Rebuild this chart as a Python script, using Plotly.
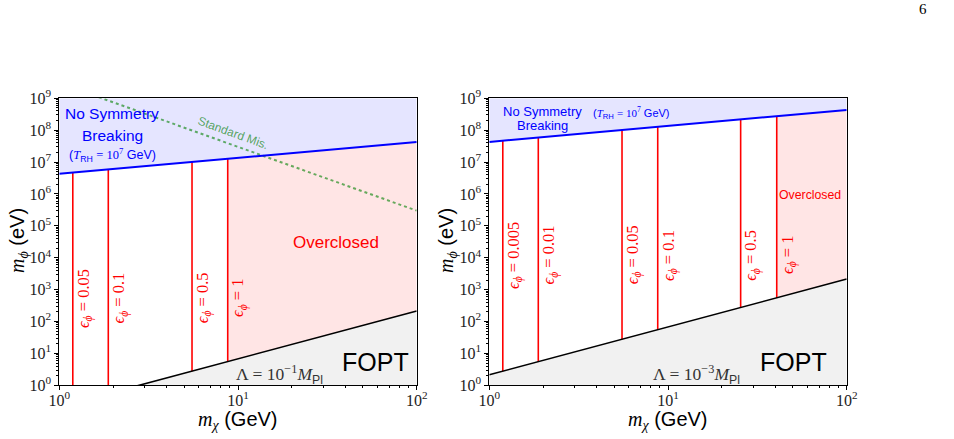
import numpy as np
import plotly.graph_objects as go

# ---------------- data ----------------
mchi_ends = [1.0, 100.0]                      # GeV, x-range endpoints of the boundary lines
blue_left = [4.3e6, 4.3e7]                    # no-symmetry-breaking boundary (left)
black_left = [0.214, 214.0]                   # Lambda = 1e-1 M_Pl boundary (left)
green_left = [3.0e9, 3.0e5]                   # standard misalignment (left)
blue_right = [4.3e7, 4.3e8]                   # (right)
black_right = [2.14, 2140.0]                  # Lambda = 1e-3 M_Pl (right)

eps_left_mchi = [1.19, 1.88, 5.53, 8.76]
eps_left_labels = ["0.05", "0.1", "0.5", "1"]
eps_right_mchi = [1.19, 1.88, 5.53, 8.76, 25.5, 40.6]
eps_right_labels = ["0.005", "0.01", "0.05", "0.1", "0.5", "1"]

y_decades = list(range(0, 10))
x_decades = [0, 1, 2]

SERIF = "Liberation Serif"
SANS = "Liberation Sans"


def loglin(x, xs, ys):
    return 10 ** np.interp(np.log10(x), np.log10(xs), np.log10(ys))


fig = go.Figure()

W, H = 954, 439
dom_x1 = [59.3 / W, 416.7 / W]
dom_x2 = [489.3 / W, 846.7 / W]
dom_y = [(H - 385.3) / H, (H - 98.3) / H]


def panel(xa, ya, blue, black, eps_x, green=None):
    x0, x1 = mchi_ends
    top = 10 ** y_decades[-1]
    bot = 10 ** (y_decades[0] - 1)
    fig.add_trace(go.Scatter(x=[x0, x1, x1, x0, x0], y=[blue[0], blue[1], top, top, blue[0]],
                             fill="toself", fillcolor="rgba(0,0,255,0.1)", line=dict(width=0),
                             mode="lines", xaxis=xa, yaxis=ya, hoverinfo="skip", showlegend=False))
    fig.add_trace(go.Scatter(x=[x0, x1, x1, x0, x0], y=[black[0], black[1], bot, bot, black[0]],
                             fill="toself", fillcolor="rgba(128,128,128,0.11)", line=dict(width=0),
                             mode="lines", xaxis=xa, yaxis=ya, hoverinfo="skip", showlegend=False))
    xs = eps_x[-1]
    fig.add_trace(go.Scatter(x=[xs, x1, x1, xs, xs],
                             y=[loglin(xs, mchi_ends, black), black[1], blue[1],
                                loglin(xs, mchi_ends, blue), loglin(xs, mchi_ends, black)],
                             fill="toself", fillcolor="rgba(255,0,0,0.1)", line=dict(width=0),
                             mode="lines", xaxis=xa, yaxis=ya, hoverinfo="skip", showlegend=False))
    if green is not None:
        fig.add_trace(go.Scatter(x=mchi_ends, y=green, mode="lines",
                                 line=dict(color="rgba(0,128,0,0.6)", width=2, dash="dot"),
                                 xaxis=xa, yaxis=ya, hoverinfo="skip", showlegend=False))
    for xv in eps_x:
        yb = max(loglin(xv, mchi_ends, black), 10 ** y_decades[0])
        yt = loglin(xv, mchi_ends, blue)
        fig.add_trace(go.Scatter(x=[xv, xv], y=[yb, yt], mode="lines",
                                 line=dict(color="red", width=1.6),
                                 xaxis=xa, yaxis=ya, hoverinfo="skip", showlegend=False))
    fig.add_trace(go.Scatter(x=mchi_ends, y=blue, mode="lines", line=dict(color="blue", width=2),
                             xaxis=xa, yaxis=ya, hoverinfo="skip", showlegend=False))
    fig.add_trace(go.Scatter(x=mchi_ends, y=black, mode="lines", line=dict(color="black", width=1.6),
                             xaxis=xa, yaxis=ya, hoverinfo="skip", showlegend=False))


panel("x", "y", blue_left, black_left, eps_left_mchi, green_left)
panel("x2", "y2", blue_right, black_right, eps_right_mchi)

ann = []


def txt(xr, yr, x, y, text, size, color, family=SANS, angle=0, xshift=0):
    ann.append(dict(xref=xr, yref=yr, x=x, y=y, text=text, showarrow=False,
                    font=dict(size=size, color=color, family=family), textangle=angle,
                    xanchor="center", yanchor="middle", xshift=xshift))


for xv, lab in zip(eps_left_mchi, eps_left_labels):
    txt("x", "y", np.log10(xv), 2.73, "<i>ϵ</i><sub><i>ϕ</i></sub> = " + lab, 16.5, "red", SERIF, -90, 11)
for xv, lab in zip(eps_right_mchi, eps_right_labels):
    txt("x2", "y2", np.log10(xv), 4.08, "<i>ϵ</i><sub><i>ϕ</i></sub> = " + lab, 16.5, "red", SERIF, -90, 11)

trh = ('(<span style="font-family:Liberation Serif"><i>T</i></span><sub>RH</sub>'
       ' <span style="font-family:Liberation Serif">= 10<sup>7</sup></span> GeV)')

txt("x", "y", 0.295, 8.53, "No Symmetry", 15.5, "blue")
txt("x", "y", 0.295, 7.84, "Breaking", 15.5, "blue")
txt("x", "y", 0.298, 7.22, trh, 12.5, "blue")
txt("x", "y", 0.973, 7.91, "Standard Mis.", 12, "rgba(0,128,0,0.65)", angle=20)
txt("x", "y", 1.55, 4.49, "Overclosed", 17, "red")
txt("x", "y", 1.767, 0.73, "FOPT", 25, "black")
txt("x", "y", 1.235, 0.35,
    '<span style="font-family:Liberation Serif">Λ = 10<sup>−1</sup><i>M</i></span><sub>Pl</sub>', 17.5, "#333")

txt("x2", "y2", 0.295, 8.60, "No Symmetry", 13, "blue")
txt("x2", "y2", 0.295, 8.16, "Breaking", 13, "blue")
txt("x2", "y2", 0.798, 8.53, trh, 11, "blue")
txt("x2", "y2", 1.794, 5.97, "Overclosed", 12.3, "red")
txt("x2", "y2", 1.702, 0.73, "FOPT", 25, "black")
txt("x2", "y2", 1.16, 0.35,
    '<span style="font-family:Liberation Serif">Λ = 10<sup>−3</sup><i>M</i></span><sub>Pl</sub>', 17.5, "#333")

xt = '<span style="font-family:Liberation Serif"><i>m</i><sub><i>χ</i></sub></span> (GeV)'
yt = '<span style="font-family:Liberation Serif"><i>m</i><sub><i>ϕ</i></sub></span> (eV)'
txt("paper", "paper", 238 / W, (H - 420) / H, xt, 20, "black")
txt("paper", "paper", 668 / W, (H - 420) / H, xt, 20, "black")
txt("paper", "paper", 18 / W, (H - 241) / H, yt, 20, "black", angle=-90)
txt("paper", "paper", 447 / W, (H - 241) / H, yt, 20, "black", angle=-90)
txt("paper", "paper", 923 / W, (H - 9) / H, "6", 15, "black", SERIF)


def axis(decades, domain, anchor, standoff=0):
    return dict(type="log", showgrid=False, zeroline=False, showline=True, linecolor="black",
                linewidth=1, mirror=True, ticks="outside", ticklen=4, tickcolor="black",
                tickvals=[10 ** d for d in decades],
                ticktext=["10<sup>%d</sup>" % d for d in decades],
                range=[decades[0], decades[-1]], domain=domain, anchor=anchor,
                ticklabelstandoff=standoff,
                tickfont=dict(family=SERIF, size=16, color="#222"),
                minor=dict(ticks="outside", ticklen=2, tickcolor="black", dtick="D1", showgrid=False))


fig.update_layout(
    width=W, height=H, margin=dict(l=0, r=0, t=0, b=0, pad=0, autoexpand=False),
    paper_bgcolor="white", plot_bgcolor="white", showlegend=False,
    xaxis=axis(x_decades, dom_x1, "y", -4),
    yaxis=axis(y_decades, dom_y, "x"),
    xaxis2=axis(x_decades, dom_x2, "y2", -4),
    yaxis2=axis(y_decades, dom_y, "x2"),
    annotations=ann,
)

fig.write_html("out.html")
